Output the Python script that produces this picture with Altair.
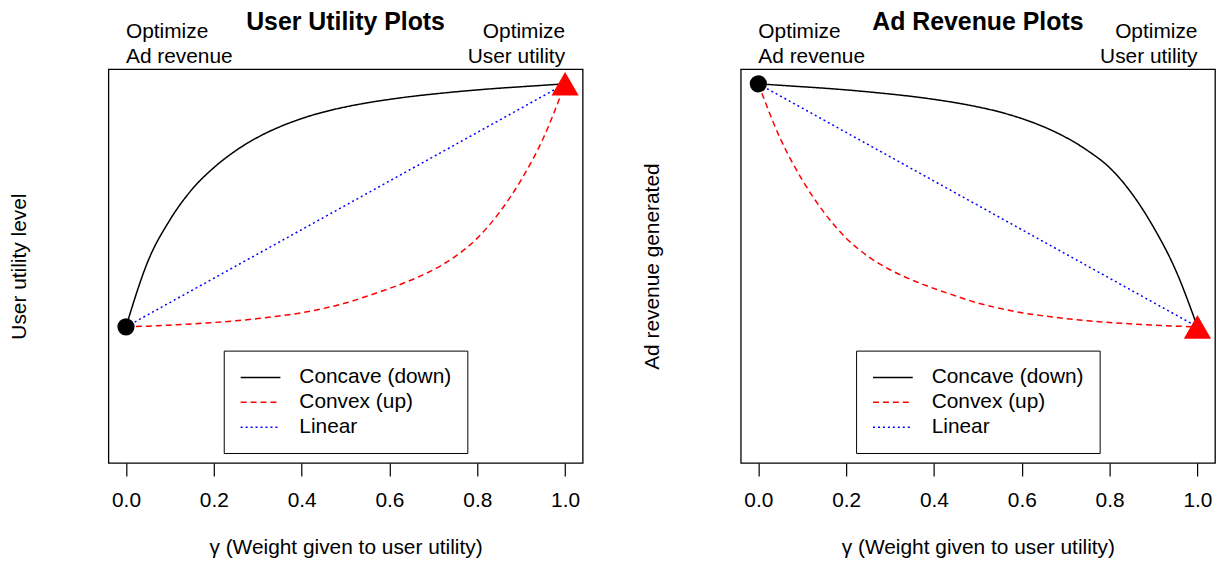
import altair as alt
import pandas as pd

# ---- data ----
gamma = [0.0, 0.05, 0.1, 0.15, 0.2, 0.25, 0.3, 0.35, 0.4, 0.45, 0.5,
         0.55, 0.6, 0.65, 0.7, 0.75, 0.8, 0.85, 0.9, 0.95, 1.0]

util_concave = [0.0, 0.27, 0.44, 0.565, 0.655, 0.725, 0.78, 0.823, 0.857, 0.884, 0.905,
                0.922, 0.936, 0.948, 0.958, 0.967, 0.975, 0.982, 0.988, 0.994, 1.0]
util_convex = [0.0, 0.003, 0.007, 0.012, 0.018, 0.025, 0.034, 0.045, 0.058, 0.076, 0.098,
               0.127, 0.158, 0.193, 0.235, 0.29, 0.365, 0.47, 0.605, 0.775, 1.0]

rev_concave = [1.0, 0.994, 0.988, 0.982, 0.975, 0.967, 0.958, 0.948, 0.936, 0.922, 0.905,
               0.884, 0.857, 0.823, 0.78, 0.725, 0.655, 0.55, 0.41, 0.235, 0.0]
rev_convex = [1.0, 0.775, 0.605, 0.47, 0.365, 0.29, 0.235, 0.193, 0.158, 0.127, 0.098,
              0.076, 0.058, 0.045, 0.034, 0.025, 0.018, 0.012, 0.007, 0.003, 0.0]

linear_gamma = [0.0, 1.0]
util_linear = [0.0, 1.0]
rev_linear = [1.0, 0.0]

series_names = ["Concave (down)", "Convex (up)", "Linear"]
series_colors = ["#000000", "#ff0000", "#0000ff"]
series_dash = [[1, 0], [6, 4], [2, 3]]

x_ticks = [0.0, 0.2, 0.4, 0.6, 0.8, 1.0]
x_title = "γ (Weight given to user utility)"

FONT = "Liberation Sans"


def make_lines(conc, conv, lin):
    rows = []
    for g, v in zip(gamma, conc):
        rows.append({"gamma": g, "value": v, "series": series_names[0]})
    for g, v in zip(gamma, conv):
        rows.append({"gamma": g, "value": v, "series": series_names[1]})
    for g, v in zip(linear_gamma, lin):
        rows.append({"gamma": g, "value": v, "series": series_names[2]})
    return pd.DataFrame(rows)


def panel(title, ytitle, conc, conv, lin, circle_pt, tri_pt):
    xenc = alt.X(
        "gamma:Q",
        scale=alt.Scale(domain=[-0.04, 1.04], nice=False, zero=False),
        axis=alt.Axis(
            values=x_ticks, format=".1f", title=x_title, grid=False, domain=False,
            tickSize=13, tickColor="black", tickWidth=1.2,
            labelFontSize=21, labelColor="black", labelPadding=14, labelFlush=False,
            titleFontSize=21, titleFontWeight="normal", titleColor="black", titlePadding=26,
        ),
    )
    yenc = alt.Y(
        "value:Q",
        scale=alt.Scale(domain=[-0.56, 1.06], nice=False, zero=False),
        axis=alt.Axis(
            title=ytitle, labels=False, ticks=False, domain=False, grid=False,
            titleFontSize=21, titleFontWeight="normal", titleColor="black", titlePadding=79,
        ),
    )
    legend = alt.Legend(
        orient="none", legendX=116, legendY=283, title=None, direction="vertical",
        strokeColor="black", fillColor="white", padding=16, cornerRadius=0,
        labelFontSize=21, labelColor="black", labelLimit=400,
        symbolType="M-2,0H2", symbolSize=400, symbolStrokeWidth=1.5,
        symbolOffset=10, labelOffset=28, rowPadding=4,
    )
    lines = alt.Chart(make_lines(conc, conv, lin)).mark_line(
        strokeWidth=1.5, interpolate="monotone"
    ).encode(
        x=xenc, y=yenc,
        color=alt.Color("series:N", scale=alt.Scale(domain=series_names, range=series_colors), legend=legend),
        strokeDash=alt.StrokeDash("series:N", scale=alt.Scale(domain=series_names, range=series_dash), legend=legend),
    )
    circ = alt.Chart(pd.DataFrame({"gamma": [circle_pt[0]], "value": [circle_pt[1]]})).mark_point(
        shape="circle", filled=True, size=300, color="black", opacity=1
    ).encode(x=xenc, y=yenc)
    tri = alt.Chart(pd.DataFrame({"gamma": [tri_pt[0]], "value": [tri_pt[1]]})).mark_point(
        shape="triangle-up", filled=True, size=750, color="#ff0000", opacity=1
    ).encode(x=xenc, y=yenc)
    ann_left = alt.Chart(pd.DataFrame({"gamma": [0.0], "label": ["Optimize\nAd revenue"]})).mark_text(
        align="left", baseline="alphabetic", lineBreak="\n", lineHeight=25, fontSize=21, color="black"
    ).encode(x=xenc, y=alt.value(-31), text="label:N")
    ann_right = alt.Chart(pd.DataFrame({"gamma": [1.0], "label": ["Optimize\nUser utility"]})).mark_text(
        align="right", baseline="alphabetic", lineBreak="\n", lineHeight=25, fontSize=21, color="black"
    ).encode(x=xenc, y=alt.value(-31), text="label:N")
    return alt.layer(lines, circ, tri, ann_left, ann_right).properties(
        width=477, height=396,
        title=alt.TitleParams(title, fontSize=25, fontWeight="bold", color="black",
                              anchor="middle", offset=-14),
    )


left = panel("User Utility Plots", "User utility level",
             util_concave, util_convex, util_linear, (0.0, 0.0), (1.0, 1.0))
right = panel("Ad Revenue Plots", "Ad revenue generated",
              rev_concave, rev_convex, rev_linear, (0.0, 1.0), (1.0, 0.0))

chart = alt.hconcat(left, right, spacing=57).resolve_scale(
    color="independent", strokeDash="independent"
).resolve_legend(
    color="independent", strokeDash="independent"
).properties(
    padding={"left": 0, "top": 0, "right": 0, "bottom": 0}
).configure(font=FONT).configure_view(
    stroke="black", strokeWidth=1.3
)

chart.save("out.html", embed_options={"renderer": "svg", "actions": False})
